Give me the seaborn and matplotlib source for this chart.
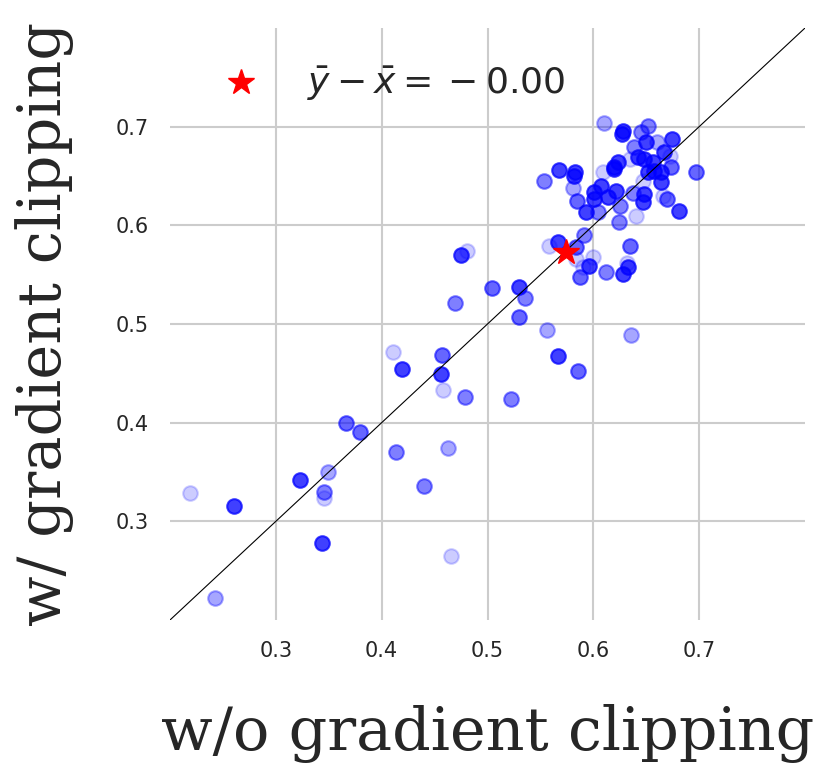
import numpy as np
import pandas as pd
import matplotlib
matplotlib.use("Agg")
import matplotlib.pyplot as plt
import seaborn as sns

# values
without_clip = [0.2185, 0.2602, 0.2422, 0.3227, 0.3493, 0.3455, 0.3455, 0.3436, 0.3664, 0.3796,
                0.4137, 0.4403, 0.4630, 0.4659, 0.4109, 0.4194, 0.4573, 0.4564, 0.4583, 0.4791,
                0.4697, 0.4754, 0.4810, 0.5047, 0.5294, 0.5351, 0.5294, 0.5559, 0.5664, 0.5853,
                0.6355, 0.5218, 0.5578, 0.5664, 0.5834, 0.5910, 0.5834, 0.5995, 0.5957, 0.5900,
                0.5872, 0.6118, 0.6280, 0.6327, 0.6318, 0.6346, 0.6242, 0.6403, 0.6043, 0.5929,
                0.5844, 0.5806, 0.5531, 0.5673, 0.5825, 0.5815, 0.6090, 0.6194, 0.6005, 0.6071,
                0.6005, 0.6137, 0.6213, 0.6251, 0.6374, 0.6479, 0.6469, 0.6659, 0.6697, 0.6810,
                0.6469, 0.6640, 0.6517, 0.6640, 0.6573, 0.6735, 0.6972, 0.6232, 0.6194, 0.6422,
                0.6346, 0.6479, 0.6564, 0.6668, 0.6725, 0.6384, 0.6498, 0.6602, 0.6744, 0.6450,
                0.6517, 0.6280, 0.6270, 0.6100]
with_clip = [0.3285, 0.3153, 0.2226, 0.3417, 0.3499, 0.3295, 0.3234, 0.2776, 0.3997, 0.3906,
             0.3702, 0.3356, 0.3743, 0.2644, 0.4720, 0.4547, 0.4690, 0.4496, 0.4333, 0.4262,
             0.5209, 0.5697, 0.5738, 0.5361, 0.5371, 0.5260, 0.5076, 0.4944, 0.4679, 0.4527,
             0.4893, 0.4242, 0.5789, 0.5830, 0.5779, 0.5901, 0.5656, 0.5677, 0.5585, 0.5575,
             0.5473, 0.5524, 0.5504, 0.5575, 0.5616, 0.5789, 0.6033, 0.6094, 0.6135, 0.6135,
             0.6247, 0.6379, 0.6450, 0.6562, 0.6542, 0.6501, 0.6542, 0.6572, 0.6338, 0.6399,
             0.6267, 0.6288, 0.6349, 0.6196, 0.6328, 0.6318, 0.6237, 0.6298, 0.6267, 0.6145,
             0.6450, 0.6440, 0.6542, 0.6542, 0.6552, 0.6593, 0.6542, 0.6644, 0.6593, 0.6695,
             0.6674, 0.6674, 0.6644, 0.6746, 0.6705, 0.6796, 0.6847, 0.6847, 0.6878, 0.6949,
             0.7010, 0.6959, 0.6929, 0.7041]
opacity = [0.2, 0.75, 0.35, 0.75, 0.35, 0.5, 0.2, 0.75, 0.6, 0.6,
           0.5, 0.5, 0.35, 0.2, 0.2, 0.75, 0.6, 0.75, 0.2, 0.5,
           0.5, 0.75, 0.2, 0.6, 0.75, 0.5, 0.6, 0.35, 0.75, 0.6,
           0.35, 0.5, 0.2, 0.75, 0.6, 0.5, 0.2, 0.2, 0.75, 0.2,
           0.6, 0.5, 0.75, 0.75, 0.2, 0.6, 0.5, 0.2, 0.5, 0.75,
           0.6, 0.35, 0.5, 0.75, 0.75, 0.75, 0.2, 0.75, 0.75, 0.75,
           0.75, 0.75, 0.75, 0.5, 0.5, 0.75, 0.75, 0.2, 0.6, 0.75,
           0.2, 0.75, 0.75, 0.75, 0.75, 0.6, 0.6, 0.75, 0.75, 0.75,
           0.2, 0.75, 0.75, 0.75, 0.2, 0.5, 0.75, 0.35, 0.75, 0.5,
           0.5, 0.75, 0.75, 0.35]
# mean point (star) as shown in the reference
mean_without = 0.574
mean_with = 0.573
ticks = [0.3, 0.4, 0.5, 0.6, 0.7]
legend_label = r"$\bar{y}-\bar{x}=\:-\:0.00$"

df = pd.DataFrame({"without": without_clip, "with": with_clip, "alpha": opacity})

sns.set_theme(style="whitegrid")
plt.rcParams["font.family"] = ["DejaVu Sans"]

fig = plt.figure(figsize=(8.3, 7.76), dpi=100)
ax = fig.add_axes([170 / 830, 1 - 620 / 776, 635 / 830, 592 / 776])

for a, grp in df.groupby("alpha"):
    sns.scatterplot(data=grp, x="without", y="with", color="blue", alpha=a, s=110,
                    edgecolor="blue", linewidth=1.5, legend=False, ax=ax, zorder=3)

ax.plot([0.2, 0.8], [0.2, 0.8], color="black", linewidth=0.8, zorder=4)
ax.plot([mean_without], [mean_with], linestyle="none", marker="*",
        markersize=19, color="red", label=legend_label, zorder=5)

ax.set_xlim(0.2, 0.8)
ax.set_ylim(0.2, 0.8)
ax.set_xticks(ticks)
ax.set_yticks(ticks)
ax.tick_params(labelsize=15, pad=9)
ax.grid(color=".8", linewidth=1.5)
sns.despine(ax=ax, left=True, bottom=True)

ax.set_xlabel("w/o gradient clipping", fontsize=43.5, family="DejaVu Serif", labelpad=31)
ax.set_ylabel("w/ gradient clipping", fontsize=42.5, family="DejaVu Serif", labelpad=30)

ax.legend(loc="upper left", frameon=False, fontsize=26, handletextpad=0.85,
          bbox_to_anchor=(0.003, 0.992))

fig.savefig("out.png", dpi=100)
